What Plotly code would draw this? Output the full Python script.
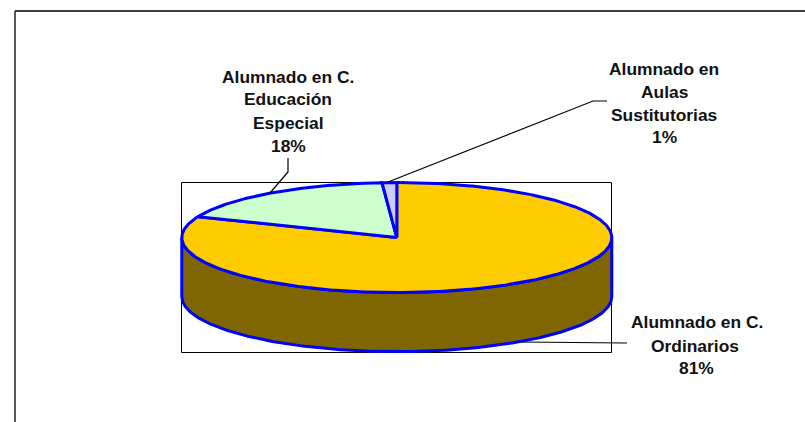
import numpy as np
import plotly.graph_objects as go

# Data, in drawing order: clockwise from 12 o'clock
categories = ["Alumnado en C. Ordinarios", "Alumnado en C. Educación Especial", "Alumnado en Aulas Sustitutorias"]
values = [81.2, 17.7, 1.1]
percent_labels = ["81%", "18%", "1%"]
top_colors = ["#FFCC00", "#CCFFCC", "#CCCCFF"]
side_colors = ["#806600", "#668066", "#666680"]
label_lines = [
    ["Alumnado en C.", "Ordinarios", "81%"],
    ["Alumnado en C.", "Educación", "Especial", "18%"],
    ["Alumnado en", "Aulas", "Sustitutorias", "1%"],
]

# Pie geometry in page pixels
CX, CY, RX, RY, DEPTH = 396.8, 237.6, 215.0, 55.0, 59.0
BLUE = "#0000FF"
FONT = dict(family="Liberation Sans, Arial, sans-serif", size=17.4, color="#111111")


def rim(a0, a1, dy=0.0):
    t = np.radians(np.linspace(a0, a1, max(int(abs(a1 - a0) * 2), 2)))
    return CX + RX * np.sin(t), CY + dy - RY * np.cos(t)


fig = go.Figure()
shares = np.array(values, dtype=float) / sum(values) * 360
starts = np.concatenate([[0], np.cumsum(shares)[:-1]])

# Side wall: only the part of each slice facing the viewer (90..270 deg)
for s, w, col in zip(starts, shares, side_colors):
    a0, a1 = max(s, 90), min(s + w, 270)
    if a1 <= a0:
        continue
    x1, y1 = rim(a0, a1)
    x2, y2 = rim(a1, a0, DEPTH)
    fig.add_trace(go.Scatter(x=np.r_[x1, x2, x1[0]], y=np.r_[y1, y2, y1[0]], mode="lines",
                             fill="toself", fillcolor=col, line=dict(color=BLUE, width=3),
                             hoverinfo="skip", showlegend=False))

# Top faces
for name, s, w, col in zip(categories, starts, shares, top_colors):
    x, y = rim(s, s + w)
    fig.add_trace(go.Scatter(x=np.r_[CX, x, CX], y=np.r_[CY, y, CY], mode="lines", name=name,
                             fill="toself", fillcolor=col, line=dict(color=BLUE, width=3),
                             showlegend=False))

# Leader lines
leaders = [
    ([627, 520], [343, 342]),
    ([288, 288, 270], [158, 172, 193]),
    ([607, 593, 388], [101, 101, 182]),
]
for lx, ly in leaders:
    fig.add_trace(go.Scatter(x=lx, y=ly, mode="lines", line=dict(color="#000000", width=1.2),
                             hoverinfo="skip", showlegend=False))

# Labels, one annotation per line to keep the original line positions
label_x = [[697, 695, 696], [288, 288, 288, 288], [664, 664, 664, 664]]
label_y = [[322, 346, 368], [76.7, 99.3, 122.7, 146], [69.3, 91.7, 114.7, 137]]
annotations = []
for lines, xs, ys in zip(label_lines, label_x, label_y):
    for t, x, y in zip(lines, xs, ys):
        annotations.append(dict(x=x, y=y, text=f"<b>{t}</b>", showarrow=False, font=FONT,
                                xanchor="center", yanchor="middle"))

shapes = [
    # plot-area rectangle behind the pie
    dict(type="rect", x0=181.5, x1=611.5, y0=182.5, y1=352.5, line=dict(color="#000000", width=1),
         layer="below"),
    # outer chart frame (top and left edges only are inside the crop)
    dict(type="line", x0=15, x1=805, y0=11, y1=11, line=dict(color="#000000", width=1.5), layer="below"),
    dict(type="line", x0=15, x1=15, y0=11, y1=422, line=dict(color="#222222", width=1.5), layer="below"),
]

fig.update_layout(
    width=805, height=422, margin=dict(l=0, r=0, t=0, b=0),
    paper_bgcolor="white", plot_bgcolor="white",
    xaxis=dict(range=[0, 805], visible=False, fixedrange=True),
    yaxis=dict(range=[422, 0], visible=False, fixedrange=True),
    annotations=annotations, shapes=shapes,
)
fig.write_html("out.html", config=dict(displayModeBar=False),
               post_script="document.body.style.margin='0';document.documentElement.style.overflow='hidden';")
